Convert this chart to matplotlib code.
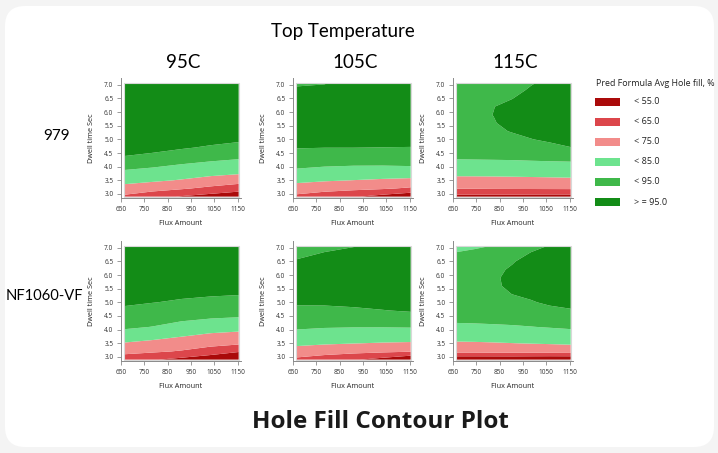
import numpy as np
import matplotlib
matplotlib.use("Agg")
import matplotlib.pyplot as plt
from matplotlib.patches import FancyBboxPatch, Rectangle

# grid the predicted surface was read on (95C and 105C panels)
flux = [665, 785, 910, 1035, 1155]
dwell = [2.9, 3.2, 3.5, 3.8, 4.1, 4.4, 4.7, 5.0, 5.5, 6.0, 6.5, 7.05]
# the 115C surfaces bend more, so they were read on a finer grid
flux_115 = [665, 745, 825, 905, 985, 1065, 1155]
dwell_115 = [2.9, 3.2, 3.5, 3.8, 4.1, 4.4, 4.7, 5.0, 5.3, 5.6, 5.9, 6.2, 6.5,
             6.8, 7.05]

# Pred Formula Avg Hole fill (%), one row per dwell value, one column per flux value
fill_979_95 = [
    [63.0, 58.3, 54.2, 51.0, 48.0],
    [71.6, 68.9, 66.1, 62.7, 59.4],
    [78.1, 76.5, 74.4, 71.7, 69.4],
    [83.5, 81.9, 79.9, 78.2, 76.9],
    [89.3, 87.5, 85.2, 83.4, 82.1],
    [95.2, 93.1, 90.5, 88.6, 87.1],
    [99.0, 98.5, 96.0, 93.8, 92.0],
    [101.5, 101.0, 99.5, 98.0, 96.5],
    [103.5, 103.0, 102.5, 101.5, 100.5],
    [104.5, 104.5, 104.0, 103.5, 103.0],
    [105.0, 105.0, 105.0, 104.5, 104.0],
    [105.0, 105.0, 105.0, 105.0, 104.5],
]
fill_979_105 = [
    [62.7, 59.2, 55.9, 51.5, 47.0],
    [70.7, 68.9, 67.5, 66.1, 63.7],
    [77.3, 75.9, 74.9, 73.9, 73.0],
    [83.1, 81.6, 80.8, 80.4, 80.6],
    [87.6, 86.7, 86.2, 86.2, 86.6],
    [91.5, 90.9, 90.6, 90.5, 90.7],
    [95.4, 95.1, 95.1, 94.9, 94.7],
    [98.0, 98.5, 98.5, 98.5, 98.5],
    [100.0, 100.5, 101.0, 101.0, 101.0],
    [100.0, 101.0, 102.0, 102.5, 102.5],
    [99.0, 99.5, 101.0, 102.0, 102.5],
    [94.0, 94.7, 98.0, 100.0, 101.0],
]
fill_979_115 = [
    [51.7, 51.6, 51.5, 51.5, 51.2, 51.0, 51.0],
    [65.5, 65.6, 65.8, 65.9, 66.0, 66.1, 66.2],
    [72.3, 72.3, 72.4, 72.6, 72.8, 73.0, 73.3],
    [77.8, 77.9, 78.0, 78.1, 78.3, 78.5, 78.7],
    [82.4, 82.5, 82.7, 82.9, 83.1, 83.3, 83.5],
    [87.0, 87.2, 87.3, 87.4, 88.0, 88.5, 89.0],
    [89.5, 90.0, 90.5, 90.8, 92.0, 93.0, 94.8],
    [91.0, 91.8, 92.5, 93.3, 94.8, 96.2, 98.3],
    [92.0, 93.0, 93.8, 95.4, 96.8, 98.3, 100.0],
    [92.5, 93.6, 94.7, 96.6, 98.0, 99.5, 101.0],
    [92.5, 93.8, 95.1, 97.0, 98.5, 100.0, 101.5],
    [92.0, 93.5, 94.9, 96.6, 98.3, 100.0, 101.5],
    [91.0, 92.6, 94.2, 94.9, 97.5, 99.3, 101.0],
    [89.5, 91.2, 92.8, 92.8, 96.0, 98.2, 100.0],
    [88.0, 89.8, 91.3, 91.0, 94.5, 97.0, 98.8],
]
fill_nf_95 = [
    [59.0, 55.8, 52.2, 48.2, 44.0],
    [68.1, 66.4, 64.2, 60.2, 55.8],
    [74.4, 72.6, 70.4, 68.3, 66.6],
    [81.1, 78.7, 76.1, 73.7, 72.5],
    [86.5, 84.8, 81.7, 79.3, 78.3],
    [89.8, 88.3, 86.5, 84.9, 84.2],
    [93.2, 91.8, 90.3, 89.1, 88.6],
    [96.5, 95.2, 94.0, 93.1, 92.7],
    [99.5, 98.5, 98.0, 97.5, 97.0],
    [101.0, 100.5, 100.0, 99.5, 99.0],
    [102.0, 101.5, 101.0, 100.5, 100.0],
    [102.0, 102.0, 101.5, 101.0, 100.5],
]
fill_nf_105 = [
    [62.8, 59.5, 56.0, 51.5, 45.0],
    [71.0, 69.3, 67.9, 66.8, 65.6],
    [77.1, 76.0, 75.2, 74.5, 74.1],
    [82.0, 80.9, 80.3, 80.0, 80.0],
    [86.4, 85.6, 85.3, 85.3, 85.5],
    [89.8, 89.4, 89.4, 90.0, 90.7],
    [93.3, 93.1, 93.6, 94.7, 95.8],
    [96.0, 96.2, 97.0, 98.0, 99.0],
    [97.5, 98.5, 99.5, 101.0, 102.0],
    [97.5, 99.0, 100.5, 102.0, 103.0],
    [95.5, 97.5, 99.5, 101.5, 102.5],
    [92.0, 93.5, 94.8, 98.5, 100.5],
]
fill_nf_115 = [
    [46.0, 46.0, 46.0, 46.0, 45.5, 45.0, 45.0],
    [68.0, 68.0, 68.2, 68.4, 68.6, 68.9, 69.3],
    [74.0, 74.2, 74.5, 74.9, 75.3, 75.7, 76.2],
    [78.7, 78.9, 79.2, 79.6, 80.1, 80.7, 81.5],
    [83.1, 83.3, 83.7, 84.2, 84.8, 85.5, 86.3],
    [87.0, 87.3, 87.6, 87.8, 88.5, 89.2, 90.3],
    [89.5, 90.0, 90.6, 90.9, 91.8, 93.2, 94.3],
    [91.0, 91.8, 92.7, 93.3, 94.4, 96.2, 97.5],
    [91.8, 92.8, 93.8, 95.05, 96.4, 98.2, 99.5],
    [92.0, 93.2, 94.3, 95.9, 97.6, 99.4, 100.5],
    [91.7, 93.0, 94.4, 96.1, 98.0, 99.8, 101.0],
    [90.5, 92.0, 93.8, 95.7, 97.8, 99.6, 100.8],
    [88.5, 90.3, 92.4, 94.6, 97.0, 98.8, 100.2],
    [85.5, 87.0, 89.6, 92.5, 95.3, 97.2, 99.0],
    [82.5, 83.8, 85.6, 90.0, 93.5, 95.4, 97.5],
]

formulas = ["979", "NF1060-VF"]
temps = ["95C", "105C", "115C"]
panels = [[fill_979_95, fill_979_105, fill_979_115],
          [fill_nf_95, fill_nf_105, fill_nf_115]]
grids = [(flux, dwell), (flux, dwell), (flux_115, dwell_115)]

# contour cut points and legend
levels = [0, 55, 65, 75, 85, 95, 200]
band_labels = ["< 55.0", "< 65.0", "< 75.0", "< 85.0", "< 95.0", "> = 95.0"]
band_colors = ["#aa0a0a", "#dc464b", "#f28c8a", "#6de38e", "#3fb84a", "#138c17"]

xticks = [650, 750, 850, 950, 1050, 1150]
yticks = [3.0, 3.5, 4.0, 4.5, 5.0, 5.5, 6.0, 6.5, 7.0]

W, H = 718, 453
fig = plt.figure(figsize=(W / 100, H / 100), dpi=100, facecolor="#f4f4f4")
plt.rcParams["font.family"] = ["Open Sans", "DejaVu Sans"]

# white rounded card, kept behind the axes
card = FancyBboxPatch((5 / W, 6 / H), 709 / W, 441 / H,
                      boxstyle="round,pad=0,rounding_size=0.028",
                      mutation_aspect=W / H, transform=fig.transFigure,
                      facecolor="white", edgecolor="none", zorder=-5)
fig.patches.append(card)

# axes boxes in pixels (left, top) for each panel
col_left = [121, 293, 453]
row_top = [78, 241]
ax_w, ax_h = 120, 120

for r in range(2):
    for c in range(3):
        fx, dw = grids[c]
        left = col_left[c] / W
        bottom = 1 - (row_top[r] + ax_h) / H
        ax = fig.add_axes([left, bottom, ax_w / W, ax_h / H], zorder=2)
        ax.patch.set_alpha(0)
        ax.contourf(fx, dw, np.array(panels[r][c]), levels=levels,
                    colors=band_colors, antialiased=True)
        # faint frame round the surface
        ax.add_patch(Rectangle((fx[0], dw[0]), fx[-1] - fx[0],
                               dw[-1] - dw[0], fill=False,
                               edgecolor="#d8d8d8", linewidth=0.8))
        ax.set_xlim(650, 1165)
        ax.set_ylim(2.85, 7.25)
        ax.set_xticks(xticks)
        ax.set_yticks(yticks)
        ax.set_yticklabels(["%.1f" % v for v in yticks])
        for side in ["top", "right"]:
            ax.spines[side].set_visible(False)
        for side in ["left", "bottom"]:
            ax.spines[side].set_color("#8a8a8a")
            ax.spines[side].set_linewidth(0.7)
        ax.tick_params(labelsize=4.7, length=3, width=0.6, pad=2.5,
                       color="#8a8a8a", labelcolor="#333333")
        ax.tick_params(axis="x", pad=3)
        ax.set_xlabel("Flux Amount", fontsize=5.2, labelpad=5, color="#222222")
        ax.set_ylabel("Dwell time Sec", fontsize=5.2, labelpad=6.5, color="#222222")

# headers
hdr_font = ["Lato", "DejaVu Sans"]
fig.text(343 / W, 1 - 32 / H, "Top Temperature", ha="center", va="center",
         fontsize=13.5, family=hdr_font)
for c, t in enumerate(temps):
    fig.text((col_left[c] + 62) / W, 1 - 62 / H, t, ha="center", va="center",
             fontsize=13.5, family=hdr_font)
fig.text(57 / W, 1 - 136 / H, formulas[0], ha="center", va="center",
         fontsize=11, family=hdr_font)
fig.text(44 / W, 1 - 296 / H, formulas[1], ha="center", va="center",
         fontsize=10.6, family=hdr_font)

# legend
fig.text(596 / W, 1 - 84 / H, "Pred Formula Avg Hole fill, %", ha="left",
         va="center", fontsize=6.4, color="#222222")
for i, (lab, col) in enumerate(zip(band_labels, band_colors)):
    yc = 102 + i * 20
    fig.patches.append(Rectangle((595 / W, 1 - (yc + 4) / H), 25 / W, 8 / H,
                                 transform=fig.transFigure, facecolor=col,
                                 edgecolor="none"))
    fig.text(634 / W, 1 - yc / H, lab, ha="left", va="center", fontsize=6.5,
             color="#222222")

fig.text(380 / W, 1 - 422 / H, "Hole Fill Contour Plot", ha="center",
         va="center", fontsize=17.5, fontweight="bold",
         family=["Open Sans", "DejaVu Sans"], color="#1a1a1a")

fig.savefig("out.png", dpi=100, facecolor=fig.get_facecolor())
